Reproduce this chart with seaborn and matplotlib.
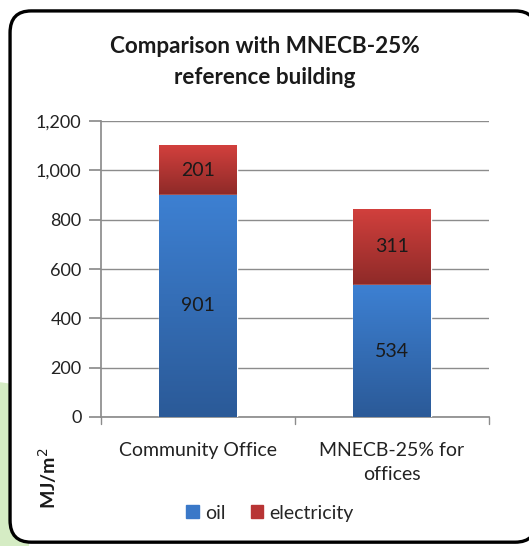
import numpy as np
import pandas as pd
import matplotlib
matplotlib.use("Agg")
import matplotlib.pyplot as plt
from matplotlib.patches import FancyBboxPatch, Rectangle
import seaborn as sns

# chart values
categories = ["Community Office", "MNECB-25% for\noffices"]
oil = [901, 534]
electricity = [201, 311]
y_ticks = [0, 200, 400, 600, 800, 1000, 1200]

df = pd.DataFrame({"category": categories, "oil": oil, "electricity": electricity})
df["total"] = df["oil"] + df["electricity"]

sns.set_theme(style="white")
plt.rcParams["font.family"] = ["Lato", "DejaVu Sans"]

fig = plt.figure(figsize=(5.29, 5.46), dpi=100)

# light green shape behind the frame, bottom left
fig.patches.append(FancyBboxPatch((-0.1, -0.1), 0.155, 0.4, boxstyle="round,pad=0,rounding_size=0.06",
                                  transform=fig.transFigure, facecolor="#d5ecc4", edgecolor="none", zorder=-3))
# rounded chart frame
fig.patches.append(FancyBboxPatch((0.019, 0.007), 0.995, 0.973, boxstyle="round,pad=0,rounding_size=0.04",
                                  transform=fig.transFigure, facecolor="white", edgecolor="black",
                                  linewidth=2.4, zorder=-2))

ax = fig.add_axes([0.191, 0.2363, 0.7335, 0.542])
ax.set_facecolor("none")

sns.barplot(data=df, x="category", y="total", color="#c0393a", width=0.4, ax=ax, zorder=2)
sns.barplot(data=df, x="category", y="oil", color="#3a78c8", width=0.4, ax=ax, zorder=3)


def gradient(patch, top, bottom):
    x0, y0 = patch.get_x(), patch.get_y()
    w, h = patch.get_width(), patch.get_height()
    grad = np.linspace(0, 1, 100).reshape(-1, 1)
    cmap = matplotlib.colors.LinearSegmentedColormap.from_list("g", [bottom, top])
    im = ax.imshow(grad, cmap=cmap, aspect="auto", origin="lower",
                   extent=[x0, x0 + w, y0, y0 + h], zorder=patch.get_zorder() + 0.1)
    im.set_clip_path(patch)


n = len(categories)
for i, p in enumerate(ax.patches[:n]):
    # red part only covers the electricity segment
    p.set_y(oil[i])
    p.set_height(electricity[i])
    gradient(p, "#d2403d", "#8e2a28")
for p in ax.patches[n:2 * n]:
    gradient(p, "#3d80d2", "#2b5a98")

for i in range(n):
    ax.text(i, oil[i] / 2, str(oil[i]), ha="center", va="center", fontsize=14, color="#1a1a1a", zorder=5)
    ax.text(i, oil[i] + electricity[i] / 2, str(electricity[i]), ha="center", va="center",
            fontsize=14, color="#1a1a1a", zorder=5)

ax.set_xlim(-0.5, 1.5)
ax.set_ylim(0, 1200)
ax.set_yticks(y_ticks)
ax.set_yticklabels([f"{v:,}" for v in y_ticks], fontsize=13, color="#222222")
ax.set_xticks(range(n))
ax.set_xticklabels(categories, fontsize=14, color="#222222", linespacing=1.5)
ax.yaxis.grid(True, color="#8c8c8c", linewidth=1)
ax.set_axisbelow(True)
for s in ["top", "right"]:
    ax.spines[s].set_visible(False)
ax.spines["left"].set_color("#8c8c8c")
ax.spines["bottom"].set_color("#8c8c8c")
ax.tick_params(axis="y", left=True, length=9, color="#8c8c8c", pad=5)
ax.tick_params(axis="x", bottom=False, pad=12)
# category separator ticks
for xv in [-0.5, 0.5, 1.5]:
    ax.plot([xv, xv], [0, -30], color="#8c8c8c", linewidth=1, clip_on=False, zorder=1)
ax.set_xlabel("")
ax.set_ylabel("")

fig.text(0.5, 0.886, "Comparison with MNECB-25%\nreference building", ha="center", va="center",
         fontsize=16.2, fontweight="bold", color="#1a1a1a", linespacing=1.6)
fig.text(0.089, 0.124, "MJ/m$^2$", rotation=90, ha="center", va="center", fontsize=14,
         fontweight="bold", color="#1a1a1a")

# legend
handles = [Rectangle((0, 0), 1, 1, color="#3a78c8"), Rectangle((0, 0), 1, 1, color="#b83434")]
fig.legend(handles, ["oil", "electricity"], loc="center", bbox_to_anchor=(0.51, 0.06), ncol=2,
           frameon=False, fontsize=14, handlelength=0.65, handleheight=0.65, handletextpad=0.3,
           columnspacing=1.3)

fig.savefig("out.png", dpi=100)
